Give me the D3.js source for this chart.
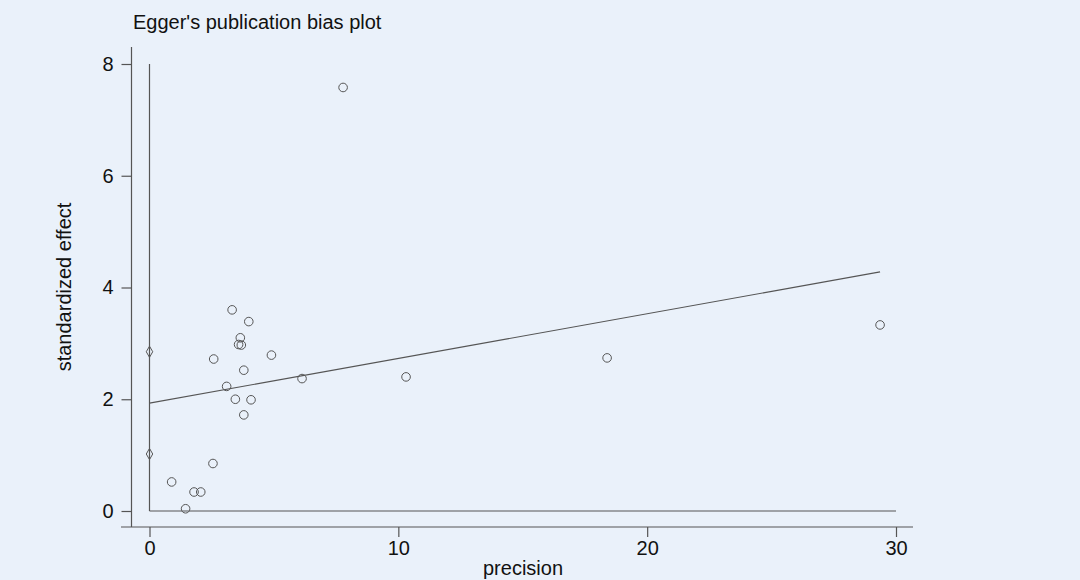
<!DOCTYPE html>
<html lang="en">
<head>
  <meta charset="UTF-8">
  <title>Egger's publication bias plot</title>
  <script src="https://d3js.org/d3.v7.min.js"></script>
  <style>
    body { margin: 0; background: #eaf1fa; }
    svg { display: block; font-family: "Liberation Sans", Arial, sans-serif; }
  </style>
</head>
<body>
  <svg width="1080" height="580"></svg>

  <script>
    // Study points: precision (1/SE) and standardized effect (effect/SE)
    const precision = [3.32, 3.99, 3.65, 3.58, 3.69, 2.58, 4.90, 3.79, 3.10, 6.13,
                       3.45, 4.08, 3.79, 2.55, 0.89, 1.79, 2.06, 1.45,
                       7.78, 10.31, 18.39, 29.36];
    const stdEffect = [3.60, 3.39, 3.10, 2.98, 2.97, 2.72, 2.79, 2.52, 2.23, 2.37,
                       2.00, 1.99, 1.72, 0.85, 0.52, 0.34, 0.34, 0.04,
                       7.58, 2.40, 2.74, 3.33];

    // Egger regression line and intercept confidence interval
    const regX = [0, 29.36];
    const regY = [1.93, 4.28];
    const ciLimits = [1.02, 2.85];

    const xTicks = [0, 10, 20, 30];
    const yTicks = [0, 2, 4, 6, 8];

    const svg = d3.select("svg");
    const ink = "#555";
    const fs = 20;

    const x = d3.scaleLinear().domain([0, 30]).range([149.5, 896]);
    const y = d3.scaleLinear().domain([0, 8]).range([511, 64]);

    // title
    svg.append("text")
        .attr("x", 133).attr("y", 29)
        .attr("font-size", fs).attr("fill", "#111")
        .text("Egger's publication bias plot");

    // axes
    const xAxis = svg.append("g")
        .attr("transform", "translate(0,527)")
        .call(d3.axisBottom(x).tickValues(xTicks).tickSize(10).tickPadding(4).tickFormat(d3.format("d")));
    xAxis.select(".domain").attr("d", "M121,0H913");

    const yAxis = svg.append("g")
        .attr("transform", "translate(131.5,0)")
        .call(d3.axisLeft(y).tickValues(yTicks).tickSize(10).tickPadding(8).tickFormat(d3.format("d")));
    yAxis.select(".domain").attr("d", "M0,47V527");

    svg.selectAll(".domain, .tick line").attr("stroke", ink).attr("stroke-width", 1.2);
    svg.selectAll(".tick text").attr("font-size", fs).attr("fill", "#111")
        .attr("font-family", "Liberation Sans, Arial, sans-serif");

    // axis titles
    svg.append("text")
        .attr("x", 523).attr("y", 575)
        .attr("text-anchor", "middle").attr("font-size", fs).attr("fill", "#111")
        .text("precision");

    svg.append("text")
        .attr("transform", "translate(71,287) rotate(-90)")
        .attr("text-anchor", "middle").attr("font-size", fs).attr("fill", "#111")
        .text("standardized effect");

    // reference lines at x = 0 and y = 0
    svg.append("line")
        .attr("x1", x(0)).attr("x2", x(0)).attr("y1", y(8)).attr("y2", y(0))
        .attr("stroke", ink).attr("stroke-width", 1.2);
    svg.append("line")
        .attr("x1", x(0)).attr("x2", x(30)).attr("y1", y(0)).attr("y2", y(0))
        .attr("stroke", ink).attr("stroke-width", 1.2);

    // regression line
    svg.append("line")
        .attr("x1", x(regX[0])).attr("y1", y(regY[0]))
        .attr("x2", x(regX[1])).attr("y2", y(regY[1]))
        .attr("stroke", ink).attr("stroke-width", 1.1);

    // study points
    svg.selectAll("circle.study")
        .data(precision.map((p, i) => [p, stdEffect[i]]))
        .enter().append("circle")
        .attr("class", "study")
        .attr("cx", d => x(d[0]))
        .attr("cy", d => y(d[1]))
        .attr("r", 4.3)
        .attr("fill", "none")
        .attr("stroke", ink)
        .attr("stroke-width", 1);

    // intercept CI markers
    svg.selectAll("path.ci")
        .data(ciLimits)
        .enter().append("path")
        .attr("class", "ci")
        .attr("d", d3.symbol(d3.symbolDiamond, 36))
        .attr("transform", d => `translate(${x(0)},${y(d)})`)
        .attr("fill", "none")
        .attr("stroke", ink)
        .attr("stroke-width", 1);
  </script>
</body>
</html>
